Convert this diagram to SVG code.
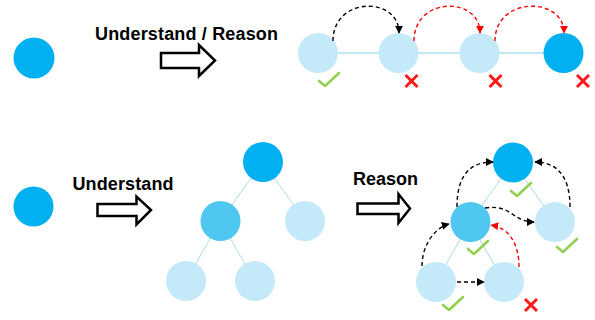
<svg xmlns="http://www.w3.org/2000/svg" xmlns:xlink="http://www.w3.org/1999/xlink" width="595" height="320" viewBox="0 0 595 320">
<style>
.dark{fill:#00B0F0}
.mid{fill:#4FC7F1}
.light{fill:#C4E9F8}
.lbl{font-family:"Liberation Sans",Arial,sans-serif;font-weight:bold;font-size:18px;fill:#000}
.big{fill:#fff;stroke:#000;stroke-width:2.5;stroke-linejoin:miter}
.chain{stroke:#BFE7F4;stroke-width:2;fill:none}
.tree{stroke:#A8DCE6;stroke-width:1;fill:none}
.dk{stroke:#000;stroke-width:1.4;stroke-dasharray:4 3;fill:none;marker-end:url(#ak)}
.rd{stroke:#FF0000;stroke-width:1.4;stroke-dasharray:4 3;fill:none;marker-end:url(#ar)}
.ok{stroke:#92D050;stroke-width:2.6;fill:none;stroke-linecap:round;stroke-linejoin:round}
.no{stroke:#FF1A1A;stroke-width:3;fill:none}
</style>
<defs>
<marker id="ak" viewBox="0 0 10 10" refX="9" refY="5" markerWidth="8" markerHeight="8" markerUnits="userSpaceOnUse" orient="auto"><path d="M0,0 L10,5 L0,10 z" fill="#000"/></marker>
<marker id="ar" viewBox="0 0 10 10" refX="9" refY="5" markerWidth="8" markerHeight="8" markerUnits="userSpaceOnUse" orient="auto"><path d="M0,0 L10,5 L0,10 z" fill="#FF0000"/></marker>
<path id="chk" class="ok" d="M-10,1 L-4,6 L10,-7"/>
<path id="crs" class="no" d="M-6,-6 L6,6 M6,-6 L-6,6"/>
</defs>

<g id="connectors">
<line class="chain" x1="318" y1="53" x2="563" y2="53"/>
<line class="tree" x1="263" y1="162" x2="220" y2="221"/>
<line class="tree" x1="263" y1="162" x2="305" y2="221"/>
<line class="tree" x1="220" y1="221" x2="186" y2="281"/>
<line class="tree" x1="220" y1="221" x2="255" y2="281"/>
<line class="tree" x1="513" y1="162" x2="470" y2="222"/>
<line class="tree" x1="513" y1="162" x2="555" y2="222"/>
<line class="tree" x1="470" y1="222" x2="436" y2="282"/>
<line class="tree" x1="470" y1="222" x2="504" y2="282"/>
</g>

<g id="arrows">
<path class="big" d="M161,53 L199,53 L199,45 L215,60.5 L199,76 L199,68 L161,68 z"/>
<path class="big" d="M97.5,204 L136.5,204 L136.5,196.5 L151,210 L136.5,224.5 L136.5,216 L97.5,216 z"/>
<path class="big" d="M357.5,203.5 L398.5,203.5 L398.5,194 L410,208.5 L398.5,223 L398.5,214 L357.5,214 z"/>
</g>

<g id="labels">
<text class="lbl" x="95" y="40" textLength="183" lengthAdjust="spacing">Understand / Reason</text>
<text class="lbl" x="72.5" y="189.5" textLength="101" lengthAdjust="spacing">Understand</text>
<text class="lbl" x="353" y="185">Reason</text>
</g>

<g id="n-single-top"><circle class="dark" cx="34" cy="58" r="20.5"/></g>
<g id="n-single-bottom"><circle class="dark" cx="33.5" cy="206.5" r="20"/></g>

<g id="n-chain1"><circle class="light" cx="318" cy="53" r="20"/></g>
<g id="n-chain2"><circle class="light" cx="398.5" cy="53" r="20"/></g>
<g id="n-chain3"><circle class="light" cx="479.5" cy="53" r="20"/></g>
<g id="n-chain4"><circle class="dark" cx="563.5" cy="53" r="20"/></g>

<g id="n-t1-root"><circle class="dark" cx="263" cy="162" r="20"/></g>
<g id="n-t1-ml"><circle class="mid" cx="220.5" cy="221" r="20"/></g>
<g id="n-t1-mr"><circle class="light" cx="305" cy="221" r="20"/></g>
<g id="n-t1-bl"><circle class="light" cx="186" cy="281" r="20"/></g>
<g id="n-t1-br"><circle class="light" cx="255" cy="281" r="20"/></g>

<g id="n-t2-root"><circle class="dark" cx="513" cy="162.5" r="20"/></g>
<g id="n-t2-ml"><circle class="mid" cx="470.5" cy="222" r="20"/></g>
<g id="n-t2-mr"><circle class="light" cx="555" cy="222" r="20"/></g>
<g id="n-t2-bl"><circle class="light" cx="436" cy="282" r="20"/></g>
<g id="n-t2-br"><circle class="light" cx="504" cy="282" r="20"/></g>

<g id="reasoning-arcs">
<path class="dk" d="M333,41 C333,-4 399,-4 399,33"/>
<path class="rd" d="M414,41 C414,-4 480,-4 480,33"/>
<path class="rd" d="M495,41 C495,-4 564,-4 564,33"/>
<path class="dk" d="M457,207 C457,175 470,162 493,162"/>
<path class="dk" d="M570,207 C570,175 556,162 535,162"/>
<path class="dk" d="M485,208 C512,204 512,222 534,222"/>
<path class="dk" d="M422,266 C422,246 434,228 449,224"/>
<path class="rd" d="M519,267 C519,245 510,228 491,225"/>
<path class="dk" d="M457,282 L484,282"/>
</g>

<g id="marks">
<use xlink:href="#chk" x="329" y="80"/>
<use xlink:href="#crs" x="411.5" y="81"/>
<use xlink:href="#crs" x="495.5" y="81"/>
<use xlink:href="#crs" x="583" y="81"/>
<use xlink:href="#chk" x="521" y="190"/>
<use xlink:href="#chk" x="478" y="248"/>
<use xlink:href="#chk" x="567" y="246"/>
<use xlink:href="#chk" x="453" y="304"/>
<use xlink:href="#crs" x="531" y="305"/>
</g>
</svg>
